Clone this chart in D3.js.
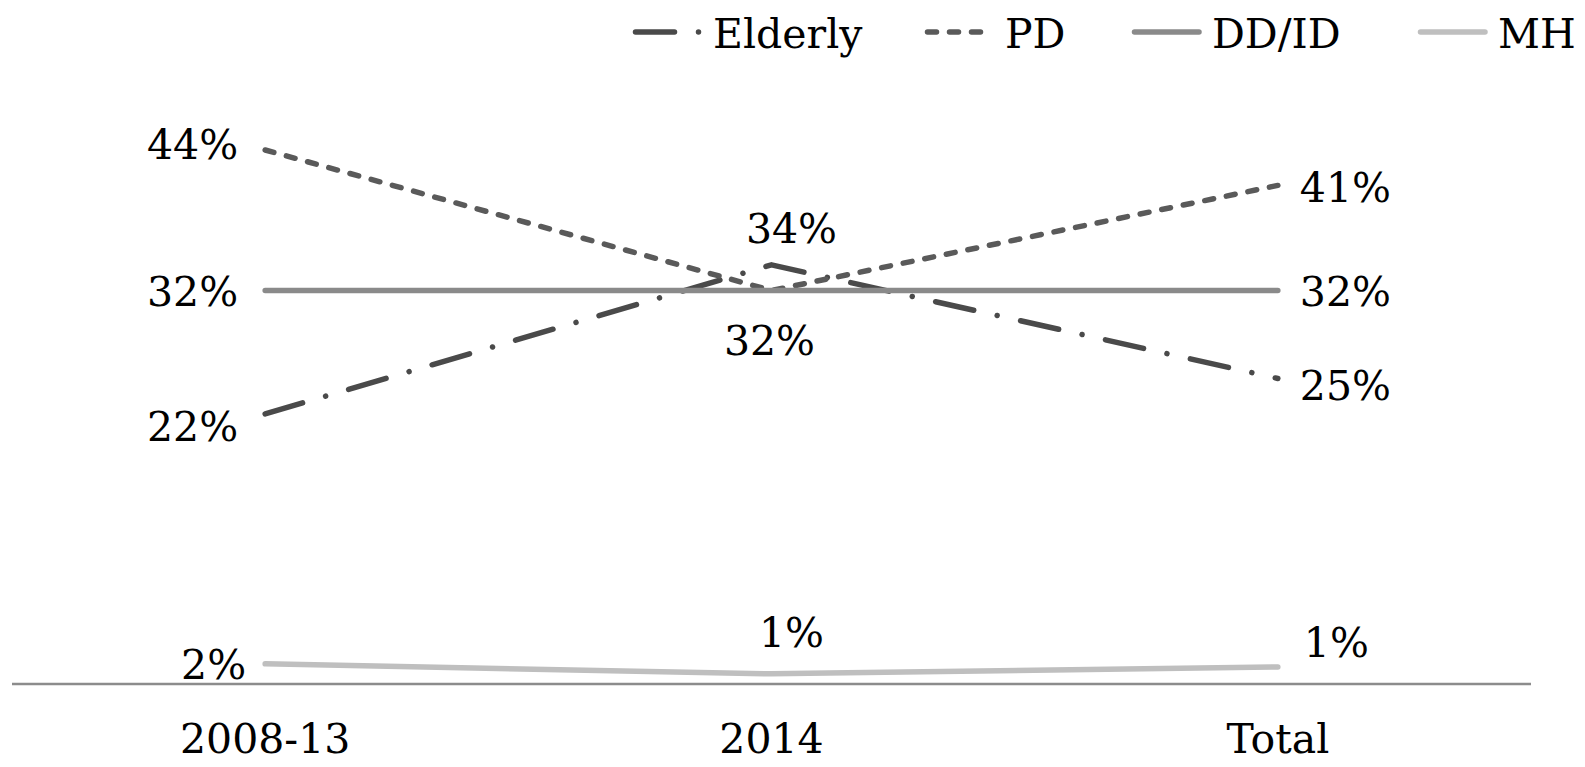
<!DOCTYPE html>
<html>
<head>
<meta charset="utf-8">
<script src="https://cdn.jsdelivr.net/npm/d3@7"></script>
<style>
  body { margin: 0; background: #fff; }
  svg { display: block; }
  text { font-family: "DejaVu Serif", Georgia, serif; font-size: 41px; fill: #000; }
</style>
</head>
<body>
<svg width="1585" height="767"></svg>
<script>
// values (percent)
var categories = ["2008-13", "2014", "Total"];
var seriesNames = ["Elderly", "PD", "DD/ID", "MH"];
var elderly = [22.1, 34.3, 25.0];
var pd = [43.7, 32.2, 40.8];
var ddid = [32.2, 32.2, 32.2];
var mh = [1.65, 0.83, 1.4];

// line looks, one per series
var colors = ["#4a4a4a", "#5a5a5a", "#8a8a8a", "#bfbfbf"];
var dashes = ["39 24 0.01 24", "9 13", null, null];

// where each data label goes: [anchor, dx, dy] from the point
var labelSpots = [
  [["end", -27, 27], ["middle", 20, -22], ["start", 22, 21]],
  [["end", -27, 9], ["middle", -2, 64], ["start", 22, 17]],
  [["end", -27, 15], null, ["start", 22, 15]],
  [["end", -19, 15], ["middle", 20, -27], ["start", 26, -10]]
];

var svg = d3.select("svg"),
    width = +svg.attr("width"),
    height = +svg.attr("height");

var x = d3.scaleBand().domain(categories).range([12, 1531]);
var y = d3.scaleLinear().domain([0, 50]).range([684, 73]);

function cx(c) { return x(c) + x.bandwidth() / 2; }

var allSeries = [elderly, pd, ddid, mh].map(function(vals, i) {
  return {
    name: seriesNames[i],
    color: colors[i],
    dash: dashes[i],
    points: vals.map(function(v, j) { return { cat: categories[j], value: v, spot: labelSpots[i][j] }; })
  };
});

// category axis: line only, labels below
var xAxis = svg.append("g")
    .attr("transform", "translate(0," + y(0) + ")")
    .call(d3.axisBottom(x).tickSize(0).tickPadding(40));
xAxis.select(".domain")
    .attr("d", "M" + x.range()[0] + ",0H" + x.range()[1])
    .attr("stroke", "#8c8c8c")
    .attr("stroke-width", 2.5);
xAxis.selectAll(".tick text")
    .attr("font-family", null)
    .attr("font-size", null)
    .attr("fill", "#000")
    .attr("dy", "0.71em");

var line = d3.line()
    .x(function(d) { return cx(d.cat); })
    .y(function(d) { return y(d.value); });

svg.append("g")
    .selectAll("path")
    .data(allSeries)
    .enter().append("path")
      .attr("d", function(d) { return line(d.points); })
      .attr("fill", "none")
      .attr("stroke", function(d) { return d.color; })
      .attr("stroke-width", 5.5)
      .attr("stroke-linecap", "round")
      .attr("stroke-linejoin", "round")
      .attr("stroke-dasharray", function(d) { return d.dash; });

// data labels
var lbl = svg.append("g");
allSeries.forEach(function(s) {
  lbl.selectAll(null)
    .data(s.points.filter(function(p) { return p.spot; }))
    .enter().append("text")
      .attr("x", function(p) { return cx(p.cat) + p.spot[1]; })
      .attr("y", function(p) { return y(p.value) + p.spot[2]; })
      .attr("text-anchor", function(p) { return p.spot[0]; })
      .text(function(p) { return Math.round(p.value) + "%"; });
});

// legend
var legendX = [713, 1005, 1212, 1498];
var legend = svg.append("g")
    .selectAll("g")
    .data(allSeries)
    .enter().append("g")
      .attr("transform", function(d, i) { return "translate(" + legendX[i] + ",0)"; });

legend.append("line")
    .attr("x1", -77.5)
    .attr("x2", -13)
    .attr("y1", 32)
    .attr("y2", 32)
    .attr("stroke", function(d) { return d.color; })
    .attr("stroke-width", 5.5)
    .attr("stroke-linecap", "round")
    .attr("stroke-dasharray", function(d) { return d.dash; });

legend.append("text")
    .attr("x", 0)
    .attr("y", 48)
    .text(function(d) { return d.name; });
</script>
</body>
</html>
